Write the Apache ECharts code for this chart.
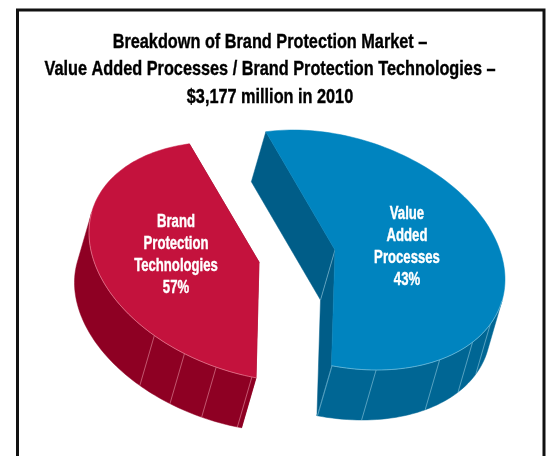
<!DOCTYPE html>
<html><head><meta charset="utf-8">
<script src="https://cdn.jsdelivr.net/npm/echarts@6/dist/echarts.min.js"></script>
<style>html,body{margin:0;padding:0;background:#fff}#c{width:547px;height:456px}</style>
</head><body><div id="c"></div>
<script>
// Printed labels
const categories = ['Brand\nProtection\nTechnologies', 'Value\nAdded\nProcesses'];
const printedPercent = [57, 43];
// Share of the circle each wedge actually occupies in the picture:
// the reference's red wedge is the smaller one, despite its printed 57%.
const drawnPercent = [43, 57];
const titleLines = ['Breakdown of Brand Protection Market \u2013',
  'Value Added Processes / Brand Protection Technologies \u2013',
  '$3,177 million in 2010'];

// Appearance
const startDeg = [91, 246];
const centers = [[259, 262], [335, 250]];
const labelAt = [[176, 255], [407, 247]];
const dividers = [[92.4, 104.6, 116, 128], [91, 76, 52, 36, 24]];
const topCol = ['#c4123d', '#0084bf'], wallCol = ['#8e0023', '#006694'], cutCol = ['#8e0023', '#005d88'];
const edgeCol = ['rgba(255,190,200,0.65)', 'rgba(190,230,245,0.65)'];
const AX = 170, BY = 120, PHI = 75.8 * Math.PI / 180, DX = -14.5, DY = 50;
const FONT = '"Liberation Sans",Arial,sans-serif';

function rim(c, deg) {
  const t = deg * Math.PI / 180;
  return [c[0] + AX * Math.cos(t), c[1] + BY * Math.cos(t - PHI)];
}
function renderItem(params, api) {
  const i = params.dataIndex;
  const c = centers[i], a0 = startDeg[i], sweep = api.value(1) * 3.6;
  const P = p => api.coord(p);
  const down = p => [p[0] + DX, p[1] + DY];
  const pts = [];
  for (let k = 0; k <= 120; k++) pts.push(rim(c, a0 + sweep * k / 120));
  const children = [];
  const poly = (arr, fill) => children.push({type: 'polygon', shape: {points: arr.map(P)},
    style: {fill: fill, stroke: fill, lineWidth: 0.5}});
  const line = (a, b, col) => children.push({type: 'line',
    shape: {x1: P(a)[0], y1: P(a)[1], x2: P(b)[0], y2: P(b)[1]}, style: {stroke: col, lineWidth: 0.7}});
  // cut faces
  poly([c, pts[0], down(pts[0]), down(c)], cutCol[i]);
  poly([c, pts[120], down(pts[120]), down(c)], cutCol[i]);
  line(c, down(c), edgeCol[i]);
  // outer wall: only the segments facing the extrusion direction
  const front = [];
  for (let k = 0; k < 120; k++) {
    const p = pts[k], q = pts[k + 1];
    const mx = (p[0] + q[0]) / 2 - c[0], my = (p[1] + q[1]) / 2 - c[1];
    let nx = q[1] - p[1], ny = -(q[0] - p[0]);
    if (nx * mx + ny * my < 0) { nx = -nx; ny = -ny; }
    if (nx * DX + ny * DY > 0) { if (!front.length || front[front.length - 1] !== p) front.push(p); front.push(q); }
  }
  if (front.length) poly(front.concat(front.slice().reverse().map(down)), wallCol[i]);
  dividers[i].forEach(d => { const p = rim(c, d); line(p, down(p), edgeCol[i]); });
  // top face
  poly([c].concat(pts), topCol[i]);
  children.push({type: 'polyline', shape: {points: front.map(P)}, style: {stroke: edgeCol[i], fill: 'none', lineWidth: 0.7}});
  children.push({type: 'text', x: P(labelAt[i])[0], y: P(labelAt[i])[1], scaleX: 0.73,
    style: {text: categories[i] + '\n' + printedPercent[i] + '%', fill: '#fff', stroke: '#fff', lineWidth: 0.4,
      font: 'bold 18px ' + FONT, align: 'center', verticalAlign: 'middle', lineHeight: 21.7}});
  return {type: 'group', children: children};
}

const chart = echarts.init(document.getElementById('c'), null, {renderer: 'canvas'});
chart.setOption({
  animation: false,
  backgroundColor: '#fff',
  grid: {left: 0, right: 0, top: 0, bottom: 0},
  xAxis: {type: 'value', min: 0, max: 547, show: false},
  yAxis: {type: 'value', min: 0, max: 456, inverse: true, show: false},
  graphic: [
    {type: 'polyline', silent: true, z: -1,
     shape: {points: [[17.5, 470], [17.5, 10], [544, 10], [544, 470]]},
     style: {stroke: '#111', lineWidth: 3, fill: 'none'}},
    {type: 'text', silent: true, x: 270, y: 69.5, scaleX: 0.775,
     style: {text: titleLines.join('\n'), fill: '#000', stroke: '#000', lineWidth: 0.4, font: 'bold 21px ' + FONT,
       align: 'center', verticalAlign: 'middle', lineHeight: 27.3}}
  ],
  series: [{type: 'custom', coordinateSystem: 'cartesian2d', renderItem: renderItem, silent: true,
    encode: {x: 0, y: 1},
    data: drawnPercent.map((v, i) => [i, v])}]
});
</script></body></html>
